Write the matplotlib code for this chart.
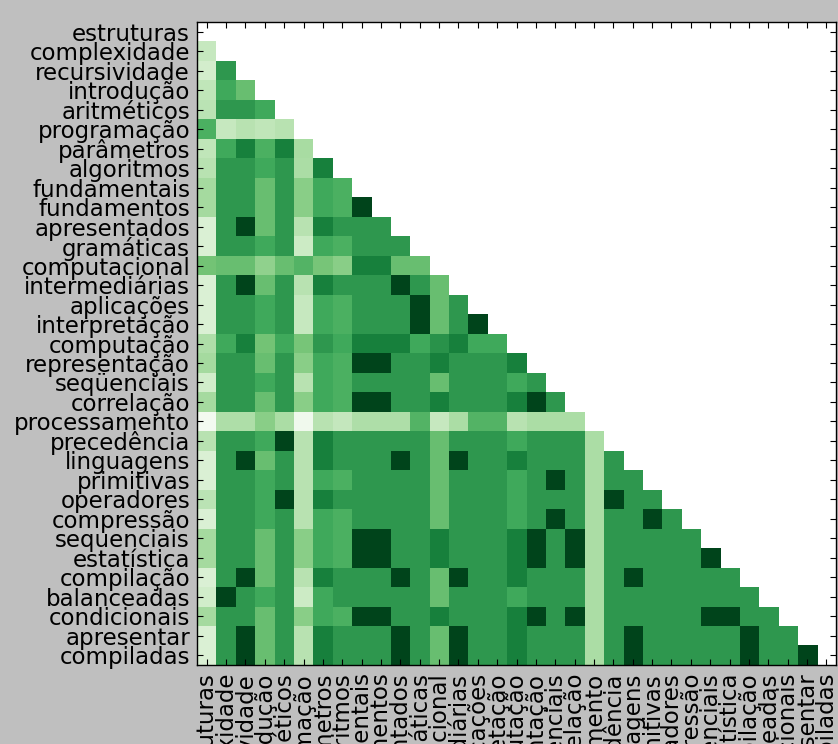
import numpy as np
import matplotlib
matplotlib.use("Agg")
import matplotlib.pyplot as plt

# --- Data: term labels and lower-triangle similarity scores ---
labels = [
    "estruturas", "complexidade", "recursividade", "introdução", "aritméticos",
    "programação", "parâmetros", "algoritmos", "fundamentais", "fundamentos",
    "apresentados", "gramáticas", "computacional", "intermediárias", "aplicações",
    "interpretação", "computação", "representação", "seqüenciais", "correlação",
    "processamento", "precedência", "linguagens", "primitivas", "operadores",
    "compressão", "sequenciais", "estatística", "compilação", "balanceadas",
    "condicionais", "apresentar", "compiladas",
]

# row i holds the scores against columns 0..i-1
rows = [
    [],
    [0.25],
    [0.2, 0.7],
    [0.27, 0.63, 0.53],
    [0.29, 0.7, 0.7, 0.63],
    [0.6, 0.25, 0.3, 0.27, 0.3],
    [0.27, 0.63, 0.79, 0.6, 0.79, 0.35],
    [0.3, 0.7, 0.7, 0.63, 0.7, 0.34, 0.79],
    [0.36, 0.7, 0.7, 0.53, 0.7, 0.44, 0.63, 0.6],
    [0.36, 0.7, 0.7, 0.53, 0.7, 0.44, 0.63, 0.6, 1.0],
    [0.17, 0.7, 1.0, 0.53, 0.7, 0.3, 0.79, 0.7, 0.7, 0.7],
    [0.17, 0.7, 0.7, 0.63, 0.7, 0.23, 0.63, 0.6, 0.7, 0.7, 0.7],
    [0.5, 0.53, 0.53, 0.42, 0.53, 0.58, 0.49, 0.44, 0.79, 0.79, 0.53, 0.53],
    [0.17, 0.7, 1.0, 0.53, 0.7, 0.3, 0.79, 0.7, 0.7, 0.7, 1.0, 0.7, 0.53],
    [0.17, 0.7, 0.7, 0.63, 0.7, 0.25, 0.63, 0.6, 0.7, 0.7, 0.7, 1.0, 0.53, 0.7],
    [0.17, 0.7, 0.7, 0.63, 0.7, 0.25, 0.63, 0.6, 0.7, 0.7, 0.7, 1.0, 0.53, 0.7, 1.0],
    [0.33, 0.63, 0.79, 0.5, 0.63, 0.49, 0.7, 0.63, 0.79, 0.79, 0.79, 0.63, 0.72, 0.79, 0.63, 0.63],
    [0.36, 0.7, 0.7, 0.53, 0.7, 0.44, 0.63, 0.6, 1.0, 1.0, 0.7, 0.7, 0.79, 0.7, 0.7, 0.7, 0.79],
    [0.21, 0.7, 0.7, 0.63, 0.7, 0.3, 0.63, 0.6, 0.7, 0.7, 0.7, 0.7, 0.53, 0.7, 0.7, 0.7, 0.63, 0.7],
    [0.36, 0.7, 0.7, 0.53, 0.7, 0.44, 0.63, 0.6, 1.0, 1.0, 0.7, 0.7, 0.79, 0.7, 0.7, 0.7, 0.79, 1.0, 0.7],
    [0.03, 0.33, 0.33, 0.44, 0.34, 0.05, 0.3, 0.26, 0.33, 0.33, 0.33, 0.58, 0.25, 0.34, 0.58, 0.58,
     0.3, 0.34, 0.34, 0.34],
    [0.3, 0.7, 0.7, 0.63, 1.0, 0.3, 0.79, 0.7, 0.7, 0.7, 0.7, 0.7, 0.53, 0.7, 0.7, 0.7, 0.63, 0.7,
     0.7, 0.7, 0.34],
    [0.17, 0.7, 1.0, 0.53, 0.7, 0.3, 0.79, 0.7, 0.7, 0.7, 1.0, 0.7, 0.53, 1.0, 0.7, 0.7, 0.79, 0.7,
     0.7, 0.7, 0.34, 0.7],
    [0.17, 0.7, 0.7, 0.63, 0.7, 0.3, 0.63, 0.6, 0.7, 0.7, 0.7, 0.7, 0.53, 0.7, 0.7, 0.7, 0.63, 0.7,
     1.0, 0.7, 0.34, 0.7, 0.7],
    [0.29, 0.7, 0.7, 0.63, 1.0, 0.3, 0.79, 0.7, 0.7, 0.7, 0.7, 0.7, 0.53, 0.7, 0.7, 0.7, 0.63, 0.7,
     0.7, 0.7, 0.34, 1.0, 0.7, 0.7],
    [0.17, 0.7, 0.7, 0.63, 0.7, 0.3, 0.63, 0.6, 0.7, 0.7, 0.7, 0.7, 0.53, 0.7, 0.7, 0.7, 0.63, 0.7,
     1.0, 0.7, 0.34, 0.7, 0.7, 1.0, 0.7],
    [0.36, 0.7, 0.7, 0.53, 0.7, 0.44, 0.63, 0.6, 1.0, 1.0, 0.7, 0.7, 0.79, 0.7, 0.7, 0.7, 0.79, 1.0,
     0.7, 1.0, 0.34, 0.7, 0.7, 0.7, 0.7, 0.7],
    [0.36, 0.7, 0.7, 0.53, 0.7, 0.44, 0.63, 0.6, 1.0, 1.0, 0.7, 0.7, 0.79, 0.7, 0.7, 0.7, 0.79, 1.0,
     0.7, 1.0, 0.34, 0.7, 0.7, 0.7, 0.7, 0.7, 1.0],
    [0.17, 0.7, 1.0, 0.53, 0.7, 0.3, 0.79, 0.7, 0.7, 0.7, 1.0, 0.7, 0.53, 1.0, 0.7, 0.7, 0.79, 0.7,
     0.7, 0.7, 0.34, 0.7, 1.0, 0.7, 0.7, 0.7, 0.7, 0.7],
    [0.21, 1.0, 0.7, 0.63, 0.7, 0.23, 0.63, 0.7, 0.7, 0.7, 0.7, 0.7, 0.53, 0.7, 0.7, 0.7, 0.63, 0.7,
     0.7, 0.7, 0.34, 0.7, 0.7, 0.7, 0.7, 0.7, 0.7, 0.7, 0.7],
    [0.36, 0.7, 0.7, 0.53, 0.7, 0.44, 0.63, 0.6, 1.0, 1.0, 0.7, 0.7, 0.79, 0.7, 0.7, 0.7, 0.79, 1.0,
     0.7, 1.0, 0.34, 0.7, 0.7, 0.7, 0.7, 0.7, 1.0, 1.0, 0.7, 0.7],
    [0.17, 0.7, 1.0, 0.53, 0.7, 0.3, 0.79, 0.7, 0.7, 0.7, 1.0, 0.7, 0.53, 1.0, 0.7, 0.7, 0.79, 0.7,
     0.7, 0.7, 0.34, 0.7, 1.0, 0.7, 0.7, 0.7, 0.7, 0.7, 1.0, 0.7, 0.7],
    [0.17, 0.7, 1.0, 0.53, 0.7, 0.3, 0.79, 0.7, 0.7, 0.7, 1.0, 0.7, 0.53, 1.0, 0.7, 0.7, 0.79, 0.7,
     0.7, 0.7, 0.34, 0.7, 1.0, 0.7, 0.7, 0.7, 0.7, 0.7, 1.0, 0.7, 0.7, 1.0],
]

n = len(labels)
matrix = np.full((n, n), np.nan)
for i, r in enumerate(rows):
    matrix[i, :len(r)] = r
masked = np.ma.masked_invalid(matrix)

fig = plt.figure(figsize=(8.38, 7.44), dpi=100, facecolor="#bfbfbf")
ax = fig.add_axes([197 / 838, 1 - 665 / 744, 639 / 838, 643 / 744])
ax.set_facecolor("white")
ax.imshow(masked, cmap="Greens", vmin=0, vmax=1, interpolation="nearest", aspect="auto")

ax.set_xticks(range(n))
ax.set_yticks(range(n))
ax.set_xticklabels(labels, rotation=90, fontsize=16.5)
ax.set_yticklabels(labels, fontsize=16.5)
ax.tick_params(direction="in", length=4, top=True, right=True, pad=5)
for s in ax.spines.values():
    s.set_linewidth(1.0)
    s.set_color("black")

fig.savefig("out.png", dpi=100, facecolor=fig.get_facecolor())
